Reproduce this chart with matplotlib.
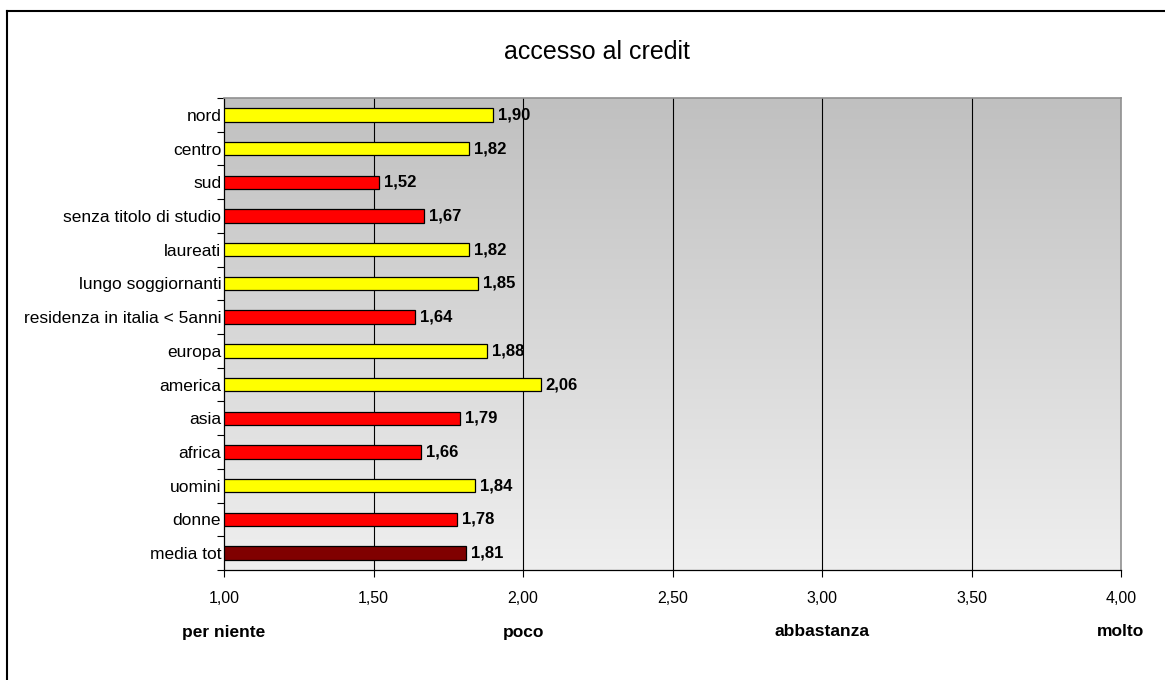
import matplotlib
matplotlib.use("Agg")
import matplotlib.pyplot as plt
import numpy as np
from matplotlib.lines import Line2D
from matplotlib.colors import LinearSegmentedColormap

categories = ["nord", "centro", "sud", "senza titolo di studio", "laureati",
              "lungo soggiornanti", "residenza in italia < 5anni", "europa",
              "america", "asia", "africa", "uomini", "donne", "media tot"]
values = [1.90, 1.82, 1.52, 1.67, 1.82, 1.85, 1.64, 1.88, 2.06, 1.79, 1.66, 1.84, 1.78, 1.81]
colors = ["#ffff00", "#ffff00", "#ff0000", "#ff0000", "#ffff00", "#ffff00", "#ff0000",
          "#ffff00", "#ffff00", "#ff0000", "#ff0000", "#ffff00", "#ff0000", "#800000"]
xticks = [1.0, 1.5, 2.0, 2.5, 3.0, 3.5, 4.0]
xtick_labels = ["1,00", "1,50", "2,00", "2,50", "3,00", "3,50", "4,00"]
scale_labels = ["per niente", "poco", "abbastanza", "molto"]
scale_pos = [1.0, 2.0, 3.0, 4.0]
title = "accesso al credit"

plt.rcParams['font.family'] = ['Liberation Sans', 'DejaVu Sans']

W, H = 1165, 680
fig = plt.figure(figsize=(W / 100, H / 100), dpi=100)
ax = fig.add_axes([224 / W, 1 - 570 / H, (1121 - 224) / W, (570 - 98) / H])

# gradient background
grad = np.linspace(0, 1, 256).reshape(-1, 1)
cmap = LinearSegmentedColormap.from_list("g", ["#c0c0c0", "#efefef"])
n = len(categories)
ax.imshow(grad, aspect="auto", cmap=cmap, extent=[1.0, 4.0, n - 0.5, -0.5],
          origin="upper", zorder=0)

y = np.arange(n)
ax.barh(y, [v - 1.0 for v in values], left=1.0, height=0.4, color=colors,
        edgecolor="black", linewidth=0.9, zorder=3)
for yi, v in zip(y, values):
    ax.text(v + 0.015, yi, f"{v:.2f}".replace(".", ","), va="center", ha="left",
            fontsize=12, fontweight="bold", zorder=4)

ax.set_xlim(1.0, 4.0)
ax.set_ylim(n - 0.5, -0.5)
for xt in xticks[1:-1]:
    ax.axvline(xt, color="black", linewidth=0.8, zorder=1)

ax.set_xticks(xticks)
ax.set_xticklabels(xtick_labels, fontsize=11.5)
ax.tick_params(axis="x", direction="out", length=5, width=0.8, pad=10)
ax.set_yticks(np.arange(n + 1) - 0.5, minor=False)
ax.set_yticklabels([])
ax.set_yticks(y, minor=True)
ax.set_yticklabels(categories, minor=True, fontsize=12.5)
ax.tick_params(axis="y", which="major", direction="out", length=5, width=0.8)
ax.tick_params(axis="y", which="minor", length=0, pad=2)

for s in ["top", "right"]:
    ax.spines[s].set_color("#909090")
    ax.spines[s].set_linewidth(1.2)
ax.spines["left"].set_linewidth(0.9)
ax.spines["bottom"].set_linewidth(0.9)

for lab, p in zip(scale_labels, scale_pos):
    fx = (224 + (p - 1.0) / 3.0 * (1121 - 224)) / W
    fig.text(fx, 1 - 632 / H, lab, ha="center", va="center", fontsize=12.5,
             fontweight="bold")

fig.text(597 / W, 1 - 52 / H, title, ha="center", va="center", fontsize=18)

# outer frame (left and top edges)
fig.add_artist(Line2D([7 / W, 7 / W], [0, 1 - 11 / H], transform=fig.transFigure,
                      color="black", linewidth=1.5))
fig.add_artist(Line2D([7 / W, 1], [1 - 11 / H, 1 - 11 / H], transform=fig.transFigure,
                      color="black", linewidth=1.5))

fig.savefig("out.png", dpi=100)
